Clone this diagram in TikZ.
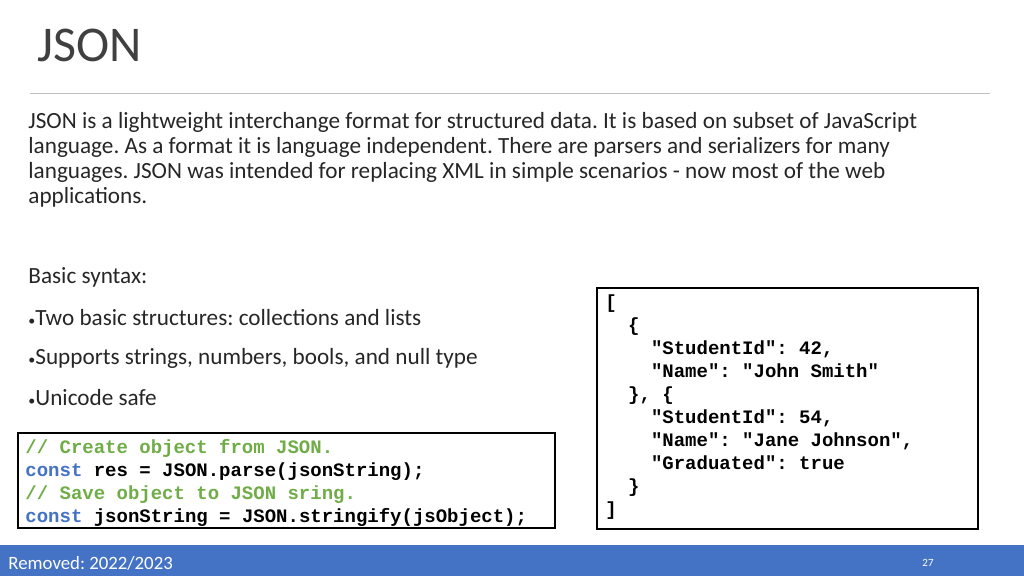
\documentclass[tikz,border=0pt]{standalone}
\usepackage{fontspec}
\setmainfont{Carlito}
\newfontfamily\codefont{Liberation Mono}
\usetikzlibrary{positioning}
\frenchspacing
\definecolor{barblue}{RGB}{68,114,196}
\definecolor{kwblue}{RGB}{68,114,196}
\definecolor{cmtgreen}{RGB}{112,173,71}
\definecolor{titlegray}{RGB}{64,64,64}
\definecolor{textgray}{RGB}{38,38,38}
\tikzset{
  bodytext/.style={anchor=west, inner sep=0pt, align=left, text=textgray,
    font=\fontsize{11.6}{12.5}\selectfont},
  codebox/.style={draw=black, line width=0.6pt, fill=white},
  codetext/.style={anchor=north west, inner sep=0pt, align=left,
    font=\codefont\bfseries\fontsize{9.5}{11.5}\selectfont},
}
\newcommand{\kw}[1]{\textcolor{kwblue}{#1}}
\newcommand{\cmt}[1]{\textcolor{cmtgreen}{#1}}
\begin{document}
\begin{tikzpicture}[x=0.5pt,y=-0.5pt]
  \useasboundingbox (0,0) rectangle (1024,576);

  % Title
  \node[anchor=west, inner sep=0pt, text=titlegray, font=\fontsize{25}{28}\selectfont] (title) at (37,45) {JSON};
  \draw[gray!50, line width=0.5pt] (30,94) -- (990,94);

  % Intro
  \node[bodytext, anchor=north west] (intro) at (28,112) {JSON is a lightweight interchange format for structured data. It is based on subset of JavaScript\\
language. As a format it is language independent. There are parsers and serializers for many\\
languages. JSON was intended for replacing XML in simple scenarios - now most of the web\\
applications.};

  % Basic syntax
  \node[bodytext] (syntax) at (28,277) {Basic syntax:};
  \node[bodytext] (b1) at (28,318) {{\fontsize{7}{8}\selectfont\textbullet}Two basic structures: collections and lists};
  \node[bodytext] (b2) at (28,358) {{\fontsize{7}{8}\selectfont\textbullet}Supports strings, numbers, bools, and null type};
  \node[bodytext] (b3) at (28,398) {{\fontsize{7}{8}\selectfont\textbullet}Unicode safe};

  % Left code box
  \draw[codebox] (18,433) rectangle (555,528);
  \node[codetext] (jscode) at (25,439) {\cmt{// Create object from JSON.}\\
\kw{const} res = JSON.parse(jsonString);\\
\cmt{// Save object to JSON sring.}\\
\kw{const} jsonString = JSON.stringify(jsObject);};

  % Right code box
  \draw[codebox] (597,288) rectangle (978,529);
  \node[codetext] (jsondata) at (605,294) {[\\
\ \ \{\\
\ \ \ \ "StudentId": 42,\\
\ \ \ \ "Name": "John Smith"\\
\ \ \}, \{\\
\ \ \ \ "StudentId": 54,\\
\ \ \ \ "Name": "Jane Johnson",\\
\ \ \ \ "Graduated": true\\
\ \ \}\\
]};

  % Footer
  \fill[barblue] (0,545) rectangle (1024,576);
  \node[anchor=west, inner sep=0pt, text=white, font=\fontsize{9.4}{10}\selectfont] (removed) at (8,563) {Removed: 2022/2023};
  \node[inner sep=0pt, text=white, font=\fontsize{5.5}{6}\selectfont] (page) at (928,563) {27};
\end{tikzpicture}
\end{document}
